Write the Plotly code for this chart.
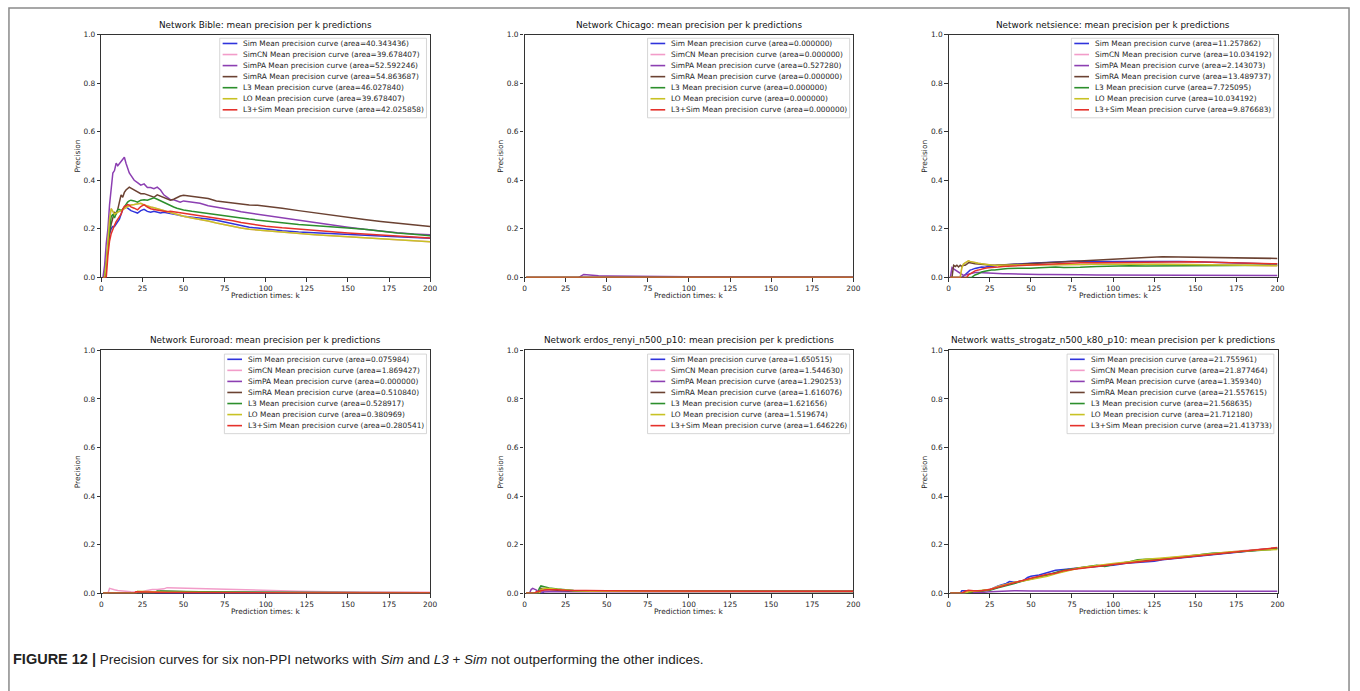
import plotly.graph_objects as go

# ---------------------------------------------------------------- data
METHODS = ["Sim", "SimCN", "SimPA", "SimRA", "L3", "LO", "L3+Sim"]
COLORS = ["#2f33dc", "#f29cc9", "#8c3fb2", "#6b4232", "#2c8f2c", "#c8c224", "#e5312b"]

X_TICKS = [0, 25, 50, 75, 100, 125, 150, 175, 200]
Y_TICKS = [0.0, 0.2, 0.4, 0.6, 0.8, 1.0]

# Bible --------------------------------------------------------------
BIBLE_K = [1, 2, 3, 4, 5, 6, 7, 8, 9, 10, 11, 12, 13, 14, 15, 16, 17, 18,
           20, 22, 24, 26, 28, 30, 32, 34, 36, 38, 40, 42, 44, 46, 48, 50,
           55, 60, 65, 70, 75, 80, 85, 90, 95, 100,
           110, 120, 130, 140, 150, 160, 170, 180, 190, 200]
bible_lo = [0, 0, 0.06, 0.15, 0.24, 0.283, 0.27, 0.26, 0.265, 0.27, 0.272, 0.275, 0.28, 0.285, 0.29, 0.292, 0.295, 0.298,
            0.3, 0.302, 0.305, 0.298, 0.293, 0.29, 0.287, 0.283, 0.28, 0.275, 0.27, 0.266, 0.263, 0.258, 0.255, 0.252,
            0.245, 0.24, 0.232, 0.224, 0.216, 0.209, 0.203, 0.198, 0.195, 0.193,
            0.186, 0.18, 0.176, 0.172, 0.168, 0.163, 0.158, 0.154, 0.15, 0.147]
bible = {
    "Sim": (BIBLE_K, [0, 0, 0.08, 0.14, 0.18, 0.2, 0.21, 0.21, 0.22, 0.23, 0.24, 0.26, 0.28, 0.285, 0.29, 0.285, 0.28, 0.275,
                      0.27, 0.265, 0.275, 0.28, 0.272, 0.268, 0.272, 0.27, 0.265, 0.268, 0.266, 0.265, 0.262, 0.258, 0.255, 0.252,
                      0.248, 0.245, 0.24, 0.235, 0.228, 0.22, 0.213, 0.207, 0.203, 0.199,
                      0.192, 0.187, 0.183, 0.18, 0.177, 0.174, 0.17, 0.167, 0.164, 0.161]),
    "SimCN": (BIBLE_K, bible_lo),
    "SimPA": (BIBLE_K, [0, 0.05, 0.14, 0.2, 0.3, 0.38, 0.43, 0.44, 0.47, 0.46, 0.47, 0.48, 0.49, 0.495, 0.47, 0.45, 0.43, 0.42,
                        0.4, 0.39, 0.38, 0.385, 0.37, 0.37, 0.365, 0.372, 0.36, 0.34, 0.33, 0.32, 0.32, 0.315, 0.31, 0.315,
                        0.31, 0.305, 0.295, 0.29, 0.283, 0.278, 0.27, 0.265, 0.262, 0.258,
                        0.245, 0.235, 0.225, 0.216, 0.207, 0.198, 0.19, 0.184, 0.179, 0.176]),
    "SimRA": (BIBLE_K, [0, 0, 0.05, 0.12, 0.18, 0.22, 0.25, 0.27, 0.26, 0.28, 0.31, 0.34, 0.33, 0.35, 0.36, 0.365, 0.372, 0.368,
                        0.36, 0.352, 0.345, 0.345, 0.34, 0.335, 0.33, 0.34, 0.335, 0.327, 0.322, 0.318, 0.322, 0.33, 0.335, 0.338,
                        0.334, 0.332, 0.325, 0.315, 0.31, 0.308, 0.302, 0.298, 0.297, 0.294,
                        0.285, 0.275, 0.265, 0.256, 0.247, 0.238, 0.23, 0.224, 0.217, 0.21]),
    "L3": (BIBLE_K, [0, 0, 0.05, 0.13, 0.2, 0.25, 0.26, 0.245, 0.26, 0.28, 0.28, 0.275, 0.28, 0.29, 0.305, 0.31, 0.315, 0.318,
                     0.315, 0.31, 0.318, 0.32, 0.318, 0.322, 0.328, 0.322, 0.315, 0.308, 0.302, 0.295, 0.29, 0.285, 0.28, 0.278,
                     0.272, 0.268, 0.263, 0.258, 0.255, 0.25, 0.245, 0.24, 0.237, 0.234,
                     0.225, 0.218, 0.212, 0.207, 0.203, 0.198, 0.19, 0.183, 0.178, 0.172]),
    "LO": (BIBLE_K, bible_lo),
    "L3+Sim": (BIBLE_K, [0, 0, 0, 0.09, 0.15, 0.18, 0.2, 0.215, 0.23, 0.24, 0.25, 0.26, 0.28, 0.293, 0.295, 0.3, 0.298, 0.29,
                         0.285, 0.278, 0.292, 0.3, 0.29, 0.283, 0.28, 0.278, 0.275, 0.272, 0.27, 0.272, 0.27, 0.268, 0.266, 0.264,
                         0.258, 0.255, 0.25, 0.245, 0.24, 0.233, 0.226, 0.22, 0.215, 0.211,
                         0.204, 0.198, 0.192, 0.187, 0.183, 0.179, 0.174, 0.17, 0.166, 0.162]),
}
bible_area = [40.343436, 39.678407, 52.592246, 54.863687, 46.027840, 39.678407, 42.025858]

# Chicago ------------------------------------------------------------
chicago = {
    "Sim": ([1, 200], [0.0, 0.0]),
    "SimCN": ([1, 200], [0.0, 0.0]),
    "SimPA": ([1, 33, 36, 40, 45, 50, 60, 70, 80, 100, 120, 140, 160, 180, 200],
              [0, 0, 0.012, 0.009, 0.007, 0.006, 0.005, 0.0043, 0.0038, 0.003, 0.0026, 0.0022, 0.0019, 0.0017, 0.0015]),
    "SimRA": ([1, 200], [0.0, 0.0]),
    "L3": ([1, 200], [0.0, 0.0]),
    "LO": ([1, 200], [0.0, 0.0]),
    "L3+Sim": ([1, 200], [0.0, 0.0]),
}
chicago_area = [0.0, 0.0, 0.527280, 0.0, 0.0, 0.0, 0.0]

# netsience ----------------------------------------------------------
NET_K = [1, 2, 3, 4, 5, 6, 7, 8, 9, 10, 11, 12, 13, 14, 15, 16,
         18, 20, 22, 24, 26, 28, 30,
         33, 36, 40, 45, 50,
         55, 60, 65, 70, 75, 80,
         90, 100, 110, 120, 130, 140, 150, 160, 170, 180, 190, 200]
net_lo = [0, 0, 0, 0, 0, 0, 0, 0.04, 0.055, 0.06, 0.065, 0.068, 0.066, 0.064, 0.062, 0.06,
          0.058, 0.056, 0.054, 0.05, 0.05, 0.049, 0.05,
          0.05, 0.05, 0.05, 0.051, 0.052,
          0.053, 0.052, 0.051, 0.052, 0.053, 0.053,
          0.054, 0.055, 0.055, 0.054, 0.054, 0.054, 0.053, 0.052, 0.051, 0.05, 0.049, 0.048]
netsience = {
    "Sim": (NET_K, [0, 0, 0, 0, 0, 0, 0, 0, 0.005, 0.012, 0.018, 0.025, 0.03, 0.032, 0.035, 0.037,
                    0.04, 0.043, 0.042, 0.045, 0.044, 0.047, 0.05,
                    0.051, 0.053, 0.055, 0.056, 0.058,
                    0.06, 0.062, 0.064, 0.065, 0.067, 0.066,
                    0.066, 0.068, 0.066, 0.066, 0.066, 0.065, 0.064, 0.062, 0.06, 0.058, 0.056, 0.055]),
    "SimCN": (NET_K, net_lo),
    "SimPA": (NET_K, [0, 0.04, 0.035, 0.03, 0.025, 0.02, 0.015, 0.01, 0.008, 0.01, 0.012, 0.015, 0.017, 0.018, 0.019, 0.02,
                      0.02, 0.019, 0.018, 0.018, 0.017, 0.016, 0.016,
                      0.015, 0.015, 0.014, 0.013, 0.013,
                      0.012, 0.012, 0.011, 0.011, 0.011, 0.011,
                      0.01, 0.01, 0.01, 0.01, 0.01, 0.009, 0.009, 0.009, 0.008, 0.008, 0.008, 0.008]),
    "SimRA": (NET_K, [0, 0, 0.05, 0.045, 0.05, 0.043, 0.05, 0.045, 0.05, 0.05, 0.055, 0.06, 0.06, 0.058, 0.057, 0.056,
                      0.055, 0.053, 0.052, 0.05, 0.05, 0.05, 0.051,
                      0.052, 0.053, 0.054, 0.055, 0.057,
                      0.059, 0.061, 0.063, 0.065, 0.067, 0.069,
                      0.073, 0.076, 0.079, 0.082, 0.085, 0.084, 0.082, 0.081, 0.08, 0.079, 0.079, 0.078]),
    "L3": (NET_K, [0, 0, 0, 0, 0, 0, 0, 0, 0, 0, 0, 0, 0, 0, 0.005, 0.01,
                   0.015, 0.022, 0.025, 0.028, 0.03, 0.03, 0.033,
                   0.035, 0.037, 0.037, 0.036, 0.038,
                   0.04, 0.042, 0.043, 0.041, 0.04, 0.042,
                   0.045, 0.047, 0.048, 0.047, 0.047, 0.048, 0.05, 0.05, 0.05, 0.05, 0.05, 0.05]),
    "LO": (NET_K, net_lo),
    "L3+Sim": (NET_K, [0, 0, 0, 0, 0, 0, 0, 0, 0, 0, 0, 0.01, 0.015, 0.02, 0.023, 0.027,
                       0.03, 0.035, 0.038, 0.04, 0.04, 0.042, 0.043,
                       0.045, 0.046, 0.048, 0.05, 0.052,
                       0.054, 0.055, 0.057, 0.058, 0.059, 0.06,
                       0.06, 0.061, 0.061, 0.062, 0.063, 0.064, 0.064, 0.062, 0.06, 0.058, 0.057, 0.056]),
}
netsience_area = [11.257862, 10.034192, 2.143073, 13.489737, 7.725095, 10.034192, 9.876683]

# Euroroad -----------------------------------------------------------
euroroad = {
    "Sim": ([1, 90, 100, 120, 140, 160, 180, 200],
            [0, 0, 0.0011, 0.0009, 0.0008, 0.0007, 0.0006, 0.0005]),
    "SimCN": ([1, 4, 5, 6, 8, 10, 12, 15, 18, 21, 22, 25, 27, 29, 31, 34, 36, 38, 40, 45, 50,
               60, 70, 80, 90, 100, 120, 140, 160, 180, 200],
              [0, 0, 0.02, 0.017, 0.014, 0.011, 0.009, 0.007, 0.006, 0.005, 0.005, 0.006, 0.01, 0.014, 0.015,
               0.015, 0.016, 0.018, 0.023, 0.022, 0.02, 0.017, 0.015, 0.013, 0.012, 0.011, 0.008, 0.006,
               0.005, 0.0045, 0.004]),
    "SimPA": ([1, 200], [0.0, 0.0]),
    "SimRA": ([1, 34, 36, 38, 40, 45, 50, 60, 70, 80, 90, 100, 120, 140, 160, 180, 200],
              [0, 0, 0.0085, 0.008, 0.0077, 0.0068, 0.0061, 0.0051, 0.0044, 0.0038, 0.0034, 0.0031,
               0.0026, 0.0022, 0.0019, 0.0017, 0.0016]),
    "L3": ([1, 32, 34, 36, 38, 40, 45, 50, 60, 70, 80, 90, 100, 120, 140, 160, 180, 200],
           [0, 0, 0.009, 0.009, 0.0085, 0.0085, 0.0075, 0.0068, 0.0058, 0.005, 0.0044, 0.004, 0.0036,
            0.003, 0.0026, 0.0023, 0.002, 0.0018]),
    "LO": ([1, 21, 22, 25, 27, 29, 31, 34, 36, 38, 40, 45, 50, 60, 70, 80, 90, 100, 120, 140, 160, 180, 200],
           [0, 0, 0.008, 0.007, 0.0065, 0.006, 0.0056, 0.005, 0.0048, 0.0046, 0.0043, 0.0038, 0.0034,
            0.0028, 0.0024, 0.0021, 0.0019, 0.0017, 0.0014, 0.0012, 0.0011, 0.001, 0.0009]),
    "L3+Sim": ([1, 20, 21, 22, 25, 27, 29, 31, 34, 36, 38, 40, 45, 50, 60, 70, 80, 90, 100, 120, 140, 160, 180, 200],
               [0, 0, 0.006, 0.0057, 0.005, 0.0046, 0.0043, 0.004, 0.0037, 0.0035, 0.0033, 0.0031, 0.0028,
                0.0025, 0.0021, 0.0018, 0.0016, 0.0014, 0.0013, 0.001, 0.0009, 0.0008, 0.0007, 0.0006]),
}
euroroad_area = [0.075984, 1.869427, 0.000000, 0.510840, 0.528917, 0.380969, 0.280541]

# erdos_renyi_n500_p10 -----------------------------------------------
erdos = {
    "Sim": ([1, 11, 12, 15, 18, 20, 25, 30, 40, 50, 75, 100, 125, 150, 175, 200],
            [0, 0, 0.01, 0.012, 0.014, 0.013, 0.011, 0.01, 0.009, 0.009, 0.0085, 0.009, 0.009, 0.0088, 0.0087, 0.0085]),
    "SimCN": ([1, 7, 8, 10, 15, 20, 30, 50, 100, 150, 200],
              [0, 0, 0.012, 0.01, 0.009, 0.008, 0.008, 0.008, 0.008, 0.0082, 0.008]),
    "SimPA": ([1, 3, 4, 5, 6, 7, 8, 10, 15, 20, 30, 50, 75, 100, 150, 200],
              [0, 0, 0.015, 0.02, 0.017, 0.014, 0.006, 0.005, 0.006, 0.007, 0.0065, 0.0065, 0.007, 0.0065, 0.0063, 0.006]),
    "SimRA": ([1, 9, 10, 12, 15, 20, 30, 50, 75, 100, 150, 200],
              [0, 0, 0.02, 0.018, 0.015, 0.012, 0.009, 0.008, 0.008, 0.0083, 0.0082, 0.008]),
    "L3": ([1, 8, 9, 10, 12, 15, 20, 25, 30, 40, 50, 75, 100, 150, 200],
           [0, 0, 0.02, 0.03, 0.027, 0.022, 0.017, 0.013, 0.011, 0.009, 0.008, 0.0078, 0.008, 0.0078, 0.0075]),
    "LO": ([1, 9, 10, 12, 15, 20, 25, 30, 40, 50, 75, 100, 150, 200],
           [0, 0, 0.015, 0.02, 0.019, 0.015, 0.012, 0.01, 0.008, 0.0075, 0.0075, 0.0076, 0.0076, 0.0075]),
    "L3+Sim": ([1, 6, 7, 9, 10, 12, 15, 18, 20, 25, 30, 40, 50, 75, 100, 150, 200],
               [0, 0, 0.005, 0.008, 0.012, 0.013, 0.014, 0.015, 0.014, 0.012, 0.011, 0.01, 0.0098, 0.009,
                0.0088, 0.0085, 0.0083]),
}
erdos_area = [1.650515, 1.544630, 1.290253, 1.616076, 1.621656, 1.519674, 1.646226]

# watts_strogatz_n500_k80_p10 ----------------------------------------
watts = {
    "Sim": ([1, 7, 8, 10, 12, 15, 20, 25, 30, 35, 37, 40, 45, 48, 50, 55, 60, 65, 70, 75, 80,
             90, 100, 110, 120, 125, 130, 140, 150, 160, 170, 180, 190, 200],
            [0, 0, 0.01, 0.01, 0.013, 0.01, 0.01, 0.015, 0.03, 0.04, 0.048, 0.045, 0.05, 0.065, 0.07,
             0.075, 0.085, 0.095, 0.098, 0.1, 0.105, 0.11, 0.115, 0.125, 0.13, 0.132, 0.138, 0.145,
             0.152, 0.16, 0.165, 0.172, 0.178, 0.185]),
    "SimCN": ([1, 9, 12, 15, 20, 25, 30, 35, 40, 45, 50, 55, 60, 65, 70, 75, 80,
               90, 100, 110, 120, 130, 140, 150, 160, 170, 180, 190, 200],
              [0, 0, 0.008, 0.01, 0.01, 0.016, 0.028, 0.037, 0.045, 0.052, 0.06, 0.068, 0.076, 0.085,
               0.094, 0.1, 0.106, 0.114, 0.122, 0.13, 0.137, 0.143, 0.15, 0.157, 0.164, 0.17, 0.176,
               0.181, 0.186]),
    "SimPA": ([1, 15, 20, 25, 30, 40, 50, 75, 100, 125, 150, 175, 200],
              [0, 0, 0.003, 0.006, 0.008, 0.01, 0.009, 0.008, 0.008, 0.0085, 0.0085, 0.0085, 0.0085]),
    "SimRA": ([1, 12, 15, 20, 25, 30, 35, 40, 45, 50, 55, 60, 65, 70, 75, 80,
               90, 100, 110, 120, 130, 140, 150, 160, 170, 180, 190, 200],
              [0, 0, 0.008, 0.009, 0.014, 0.026, 0.035, 0.044, 0.052, 0.06, 0.067, 0.075, 0.085, 0.093,
               0.099, 0.104, 0.112, 0.12, 0.127, 0.134, 0.14, 0.147, 0.155, 0.162, 0.168, 0.174, 0.18,
               0.185]),
    "L3": ([1, 12, 15, 20, 25, 30, 35, 40, 45, 50, 55, 60, 65, 70, 75, 80,
            90, 95, 100, 110, 115, 120, 130, 140, 150, 160, 170, 180, 190, 200],
           [0, 0, 0.008, 0.01, 0.012, 0.022, 0.03, 0.04, 0.05, 0.058, 0.065, 0.075, 0.085, 0.095, 0.1,
            0.106, 0.115, 0.11, 0.118, 0.13, 0.138, 0.14, 0.142, 0.148, 0.155, 0.165, 0.168, 0.172,
            0.178, 0.182]),
    "LO": ([1, 10, 12, 15, 20, 25, 30, 35, 40, 45, 50, 55, 60, 65, 70, 75, 80,
            90, 100, 110, 120, 130, 140, 150, 160, 170, 180, 190, 200],
           [0, 0, 0.006, 0.008, 0.01, 0.015, 0.028, 0.038, 0.045, 0.05, 0.056, 0.063, 0.07, 0.08, 0.09,
            0.097, 0.105, 0.115, 0.122, 0.13, 0.14, 0.145, 0.15, 0.158, 0.163, 0.17, 0.175, 0.178, 0.18]),
    "L3+Sim": ([1, 8, 10, 12, 15, 20, 25, 30, 35, 40, 45, 50, 55, 60, 65, 70, 75, 80,
                90, 100, 110, 120, 130, 140, 150, 160, 170, 180, 190, 200],
               [0, 0, 0.008, 0.012, 0.01, 0.01, 0.015, 0.025, 0.035, 0.043, 0.053, 0.062, 0.07, 0.078,
                0.082, 0.093, 0.098, 0.103, 0.11, 0.118, 0.125, 0.13, 0.138, 0.145, 0.153, 0.16, 0.167,
                0.173, 0.18, 0.188]),
}
watts_area = [21.755961, 21.877464, 1.359340, 21.557615, 21.568635, 21.712180, 21.413733]

PANELS = [
    ("Bible", bible, bible_area),
    ("Chicago", chicago, chicago_area),
    ("netsience", netsience, netsience_area),
    ("Euroroad", euroroad, euroroad_area),
    ("erdos_renyi_n500_p10", erdos, erdos_area),
    ("watts_strogatz_n500_k80_p10", watts, watts_area),
]

CAPTION = ("<span style='font-size:14.5px'><b>FIGURE 12 |</b></span> Precision curves for six non-PPI "
           "networks with <i>Sim</i> and <i>L3</i> + <i>Sim</i> not outperforming the other indices.")

# ---------------------------------------------------------------- layout helpers
W, H = 1360, 691
FONT = "DejaVu Sans"
SMALL = 7.4          # tick / label / legend text
TITLE = 8.85
COL_X = [(100, 431), (526, 857), (953, 1284)]
ROW_Y = [(31, 277), (351, 597)]

# DejaVu Sans advance widths (em) for the glyphs used in legend entries
GLYPH_W = {" ": .318, "(": .390, ")": .390, "+": .838, ".": .318, "=": .838,
           "A": .684, "C": .698, "L": .557, "M": .863, "N": .748, "O": .787, "P": .603,
           "R": .695, "S": .635, "a": .613, "c": .550, "e": .615, "i": .278, "m": .974,
           "n": .634, "o": .612, "p": .635, "r": .411, "s": .521, "u": .634, "v": .592}


def text_px(s, size):
    return sum(GLYPH_W.get(ch, .636) for ch in s) * size


def px(x):
    return x / W


def py(y):
    return 1 - y / H


fig = go.Figure()
shapes, annotations = [], []
layout_axes = {}

for i, (name, series, areas) in enumerate(PANELS, start=1):
    r, c = divmod(i - 1, 3)
    x0, x1 = COL_X[c]
    y0, y1 = ROW_Y[r]
    sfx = "" if i == 1 else str(i)

    for m, color in zip(METHODS, COLORS):
        k, p = series[m]
        assert len(k) == len(p), (name, m)
        fig.add_trace(go.Scatter(
            x=k, y=p, mode="lines", line=dict(color=color, width=1.5),
            xaxis="x" + sfx, yaxis="y" + sfx, showlegend=False, hoverinfo="skip"))

    common = dict(showgrid=False, zeroline=False, showline=True, mirror=True,
                  linecolor="#333333", linewidth=1.1, ticks="outside", ticklen=3.5,
                  tickwidth=0.9, tickcolor="#333333", layer="below traces",
                  tickfont=dict(family=FONT, size=SMALL, color="#1e1e1e"), fixedrange=True)
    layout_axes["xaxis" + sfx] = dict(common, domain=[px(x0), px(x1)], range=[0, 200],
                                      tickvals=X_TICKS, anchor="y" + sfx)
    layout_axes["yaxis" + sfx] = dict(common, domain=[py(y1), py(y0)], range=[0, 1],
                                      tickvals=Y_TICKS, tickformat=".1f", anchor="x" + sfx)

    cx = (x0 + x1) / 2
    annotations.append(dict(text=f"Network {name}: mean precision per k predictions",
                            x=px(cx), y=py(y0 - 3), xref="paper", yref="paper",
                            xanchor="center", yanchor="bottom", showarrow=False,
                            font=dict(family=FONT, size=TITLE, color="#111")))
    annotations.append(dict(text="Prediction times: k", x=px(cx), y=py(y1 + 18.7),
                            xref="paper", yref="paper", xanchor="center", yanchor="middle",
                            showarrow=False, font=dict(family=FONT, size=SMALL, color="#1e1e1e")))
    annotations.append(dict(text="Precision", x=px(x0 - 24), y=py((y0 + y1) / 2),
                            xref="paper", yref="paper", xanchor="center", yanchor="middle",
                            textangle=-90, showarrow=False,
                            font=dict(family=FONT, size=SMALL, color="#1e1e1e")))

    # legend box in the upper right corner of the axes
    labels = [f"{m} Mean precision curve (area={a:.6f})" for m, a in zip(METHODS, areas)]
    pad, handle, gap, row_h = 0.4 * SMALL, 2.0 * SMALL, 0.8 * SMALL, 11.2
    box_r = x1 - 0.5 * SMALL
    box_l = box_r - (max(text_px(t, SMALL) for t in labels) + 2 * pad + handle + gap)
    box_t = y0 + 0.5 * SMALL
    box_b = box_t + 2 * pad + 7 * row_h - 0.5 * SMALL
    shapes.append(dict(type="rect", xref="paper", yref="paper",
                       x0=px(box_l), x1=px(box_r), y0=py(box_b), y1=py(box_t),
                       fillcolor="rgba(255,255,255,0.85)", line=dict(color="#cccccc", width=0.8)))
    for j, (t, color) in enumerate(zip(labels, COLORS)):
        yc = y0 + 9 + row_h * j
        shapes.append(dict(type="line", xref="paper", yref="paper",
                           x0=px(box_l + pad), x1=px(box_l + pad + handle),
                           y0=py(yc), y1=py(yc), line=dict(color=color, width=1.6)))
        annotations.append(dict(text=t, x=px(box_l + pad + handle + gap), y=py(yc),
                                xref="paper", yref="paper", xanchor="left", yanchor="middle",
                                showarrow=False, borderpad=0, borderwidth=0,
                                font=dict(family=FONT, size=SMALL, color="#1e1e1e")))

# page frame and caption
shapes.append(dict(type="rect", xref="paper", yref="paper", x0=px(7), x1=px(1356),
                   y0=-0.02, y1=py(4), line=dict(color="#8a8a8a", width=1.5), layer="below"))
annotations.append(dict(text=CAPTION, x=px(9), y=py(664), xref="paper", yref="paper",
                        xanchor="left", yanchor="middle", showarrow=False,
                        font=dict(family="Liberation Sans, Arial, sans-serif", size=13.5, color="#222")))

fig.update_layout(
    width=W, height=H, margin=dict(l=0, r=0, t=0, b=0),
    paper_bgcolor="white", plot_bgcolor="white", showlegend=False,
    shapes=shapes, annotations=annotations, **layout_axes)

fig.write_html("out.html")
